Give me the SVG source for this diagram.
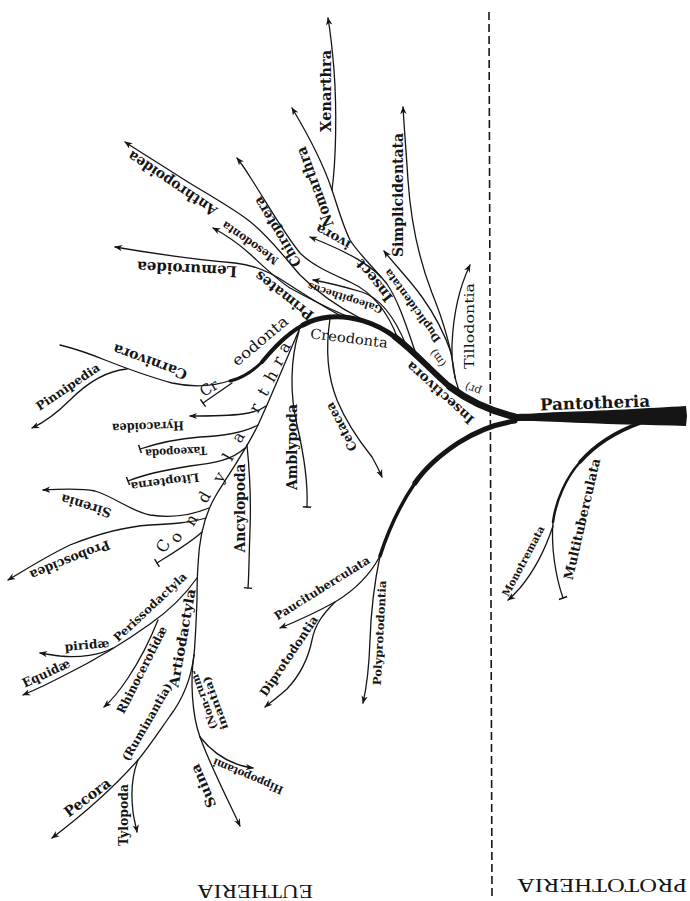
<svg xmlns="http://www.w3.org/2000/svg" width="690" height="901" viewBox="0 0 690 901">
<defs>
<style>
.ln{fill:none;stroke:#151515;stroke-width:1.3;stroke-linecap:round;stroke-linejoin:round}
.th{fill:none;stroke:#151515;stroke-linecap:round}
.a{marker-end:url(#arr)}
.e{marker-end:url(#tee)}
text{font-family:"DejaVu Serif","Liberation Serif",serif;fill:#151515;text-anchor:middle;dominant-baseline:central}
.b{font-weight:bold}
.cl{font-size:16px}
.cap{font-family:"Liberation Serif","DejaVu Serif",serif}
</style>
<marker id="arr" viewBox="0 0 10 10" refX="9" refY="5" markerWidth="8" markerHeight="8" markerUnits="userSpaceOnUse" orient="auto">
<path d="M0,1 L10,5 L0,9 L3,5 Z" fill="#151515"/>
</marker>
<marker id="tee" viewBox="0 0 10 10" refX="5" refY="5" markerWidth="9" markerHeight="9" markerUnits="userSpaceOnUse" orient="auto">
<path d="M5,0 L5,10" stroke="#151515" stroke-width="1.6"/>
</marker>
</defs>
<rect width="690" height="901" fill="#ffffff"/>

<line id="divider" x1="489" y1="12" x2="492" y2="896" stroke="#151515" stroke-width="1.6" stroke-dasharray="8,4"/>

<g id="connectors">
<path fill="#151515" d="M686,406 L687,416 L686,426 C650,425 600,424 560,422 C540,421 525,421 512,421 L512,414 C525,414 540,413 560,412 C600,411 650,408 686,406 Z"/>
<path class="th" stroke-width="7" d="M515,417 C495,412 470,402 450,387"/>
<path class="th" stroke-width="6" d="M450,387 C430,370 415,352 395,337"/>
<path class="th" stroke-width="5" d="M395,337 C375,322 350,315 330,317 C318,318 310,321 303,325"/>
<path class="th" stroke-width="4" d="M303,325 C285,335 272,350 262,362"/>
<path class="th" stroke-width="3" d="M262,362 C252,372 243,378 230,381"/>
<path class="th" stroke-width="5" d="M515,421 C495,424 475,432 458,443 C440,455 425,468 415,483"/>
<path class="th" stroke-width="3.5" d="M415,483 C402,502 390,525 380,556"/>
<path class="th" stroke-width="3.5" d="M640,423 C615,432 595,445 580,462"/>
<path class="th" stroke-width="2.5" d="M580,462 C566,478 556,500 553,522"/>
<path class="ln e" stroke-width="1.8" d="M553,522 C551,545 555,575 563,598"/>

<path class="ln a" d="M553,526 C545,550 535,570 520,588 C515,593 512,597 508,600"/>
<path class="ln a" d="M380,556 C370,575 355,590 335,602 C315,613 295,622 280,628"/>
<path class="ln a" d="M335,602 C322,615 315,625 312,640 C308,660 300,675 287,689 C278,697 271,702 265,707"/>
<path class="ln a" d="M380,556 C375,580 371,610 370,640 C369,670 366,690 363,703"/>

<path class="ln a" d="M460,394 C455,380 451,362 452,345 C453,320 457,292 470,265"/>
<path class="ln a" d="M455,378 C452,350 443,320 432,293 C420,262 411,225 408,180 C406,150 404,125 403,107"/>
<path class="ln a" d="M452,355 C445,335 435,315 422,297 C410,280 395,265 384,251"/>
<path class="ln a" d="M416,354 C406,325 398,300 387,284 C374,266 348,252 310,237"/>
<path class="ln a" d="M381,277 C368,262 356,250 350,240 C343,226 338,208 332,190 C324,166 310,138 292,108"/>
<path class="ln a" d="M332,190 C336,160 337,110 334,70 C332,45 330,30 328,18"/>
<path class="ln a" d="M406,345 C395,318 380,298 362,292 C345,287 330,283 313,280"/>
<path class="ln a" d="M398,339 C388,312 372,292 350,282 C328,272 312,265 300,253 C285,235 268,205 252,180 C247,172 242,164 237,158"/>
<path class="ln a" d="M360,318 C340,308 318,293 300,275 C285,258 268,235 248,220 C228,205 200,190 180,177 C160,164 140,152 125,142"/>
<path class="ln a" d="M352,318 C330,310 305,296 290,288 C275,278 262,265 250,254 C240,245 228,236 213,228"/>
<path class="ln a" d="M345,318 C325,308 305,295 285,282 C270,272 255,265 235,263 C200,260 150,253 115,247"/>
<path class="ln a" d="M330,319 C326,345 327,375 337,400 C346,422 360,442 372,457 C376,464 379,470 382,477"/>
<path class="ln e" d="M299,331 C290,360 290,395 297,425 C304,455 308,485 307,507"/>

<path class="ln" d="M300,328 C288,355 272,395 258,425 C245,452 228,475 215,497 C204,516 199,540 198,565 C197,580 197,590 197,600 C196,625 195,645 194,655"/>
<path class="ln e" d="M232,383 C222,390 213,396 203,403"/>
<path class="ln" d="M232,380 C215,386 195,388 172,383 C150,377 128,369 105,360 C88,353 72,348 60,345"/>
<path class="ln a" d="M127,369 C105,371 85,385 70,400 C58,412 45,422 32,428"/>
<path class="ln a" d="M266,406 C255,414 240,416 190,416"/>
<path class="ln e" d="M258,425 C245,432 225,436 200,437 C175,439 155,444 140,449"/>
<path class="ln e" d="M245,448 C232,460 215,463 190,466 C165,470 145,474 128,481"/>
<path class="ln e" d="M247,445 C250,475 251,505 250,530 C249,555 249,575 248,588"/>
<path class="ln a" d="M209,508 C190,516 170,518 150,515 C130,511 115,497 95,491 C80,488 60,489 43,490"/>
<path class="ln a" d="M206,518 C190,523 170,524 150,525 C120,527 95,535 70,545 C45,557 25,570 8,580"/>
<path class="ln e" d="M202,532 C190,543 173,553 157,563"/>

<path class="ln a" d="M197,578 C185,595 170,610 150,624 C125,642 95,660 65,675 C50,683 35,690 23,695"/>
<path class="ln a" d="M113,648 C100,655 80,658 60,656 C52,655 46,654 40,653"/>
<path class="ln a" d="M158,620 C150,640 140,660 128,678 C120,690 112,700 104,707"/>
<path class="ln a" d="M194,655 C191,680 182,700 170,716 C158,733 148,748 138,760 C115,786 85,813 52,838"/>
<path class="ln a" d="M138,760 C132,775 131,795 133,812 C134,820 136,826 137,832"/>
<path class="ln" d="M194,655 C190,680 192,715 200,737"/>
<path class="ln a" d="M200,737 C210,765 228,800 240,826"/>
<path class="ln a" d="M200,737 C212,752 230,765 253,768"/>
</g>

<g id="n-pantotheria"><text class="b" font-size="16.5" textLength="110" lengthAdjust="spacingAndGlyphs" transform="translate(595,403) rotate(-2)">Pantotheria</text></g>
<g id="n-multituberculata"><text class="b" font-size="13" textLength="124" lengthAdjust="spacingAndGlyphs" transform="translate(582,519) rotate(-77)">Multituberculata</text></g>
<g id="n-monotremata"><text class="b" font-size="10.5" textLength="78" lengthAdjust="spacingAndGlyphs" transform="translate(523,561) rotate(-62)">Monotremata</text></g>
<g id="n-paucituberculata"><text class="b" font-size="11.5" textLength="110" lengthAdjust="spacingAndGlyphs" transform="translate(322,588) rotate(-32)">Paucituberculata</text></g>
<g id="n-diprotodontia"><text class="b" font-size="12" textLength="94" lengthAdjust="spacingAndGlyphs" transform="translate(289,656) rotate(-56)">Diprotodontia</text></g>
<g id="n-polyprotodontia"><text class="b" font-size="11" textLength="105" lengthAdjust="spacingAndGlyphs" transform="translate(380,633) rotate(-87)">Polyprotodontia</text></g>
<g id="n-insectivora"><text class="b" font-size="13" textLength="86" lengthAdjust="spacingAndGlyphs" transform="translate(440,393) rotate(-138)">Insectivora</text></g>
<g id="n-tillodontia"><text font-size="13" textLength="86" lengthAdjust="spacingAndGlyphs" transform="translate(469,326) rotate(-90)">Tillodontia</text></g>
<g id="n-pr"><text font-size="11" transform="translate(473,389) rotate(200)">pr)</text></g>
<g id="n-m"><text font-size="11" transform="translate(438,358) rotate(-125)">(m)</text></g>
<g id="n-duplicidentata"><text class="b" font-size="10.5" textLength="88" lengthAdjust="spacingAndGlyphs" transform="translate(412,306) rotate(-126)">Duplicidentata</text></g>
<g id="n-simplicidentata"><text class="b" font-size="14" textLength="124" lengthAdjust="spacingAndGlyphs" transform="translate(398,195) rotate(-90)">Simplicidentata</text></g>
<g id="n-insect"><text class="b" font-size="14" textLength="50" lengthAdjust="spacingAndGlyphs" transform="translate(374,281) rotate(-129)">Insect</text></g>
<g id="n-ivora"><text class="b" font-size="13" textLength="38" lengthAdjust="spacingAndGlyphs" transform="translate(333,237) rotate(-151)">ivora</text></g>
<g id="n-galeopithecus"><text class="b" font-size="10" textLength="78" lengthAdjust="spacingAndGlyphs" transform="translate(345,298) rotate(-162)">Galeopithecus</text></g>
<g id="n-xenarthra"><text class="b" font-size="15" textLength="82" lengthAdjust="spacingAndGlyphs" transform="translate(326,91) rotate(-90)">Xenarthra</text></g>
<g id="n-nomarthra"><text class="b" font-size="15" textLength="84" lengthAdjust="spacingAndGlyphs" transform="translate(315,187) rotate(-110)">Nomarthra</text></g>
<g id="n-chiroptera"><text class="b" font-size="13.5" textLength="79" lengthAdjust="spacingAndGlyphs" transform="translate(277,232) rotate(-121)">Chiroptera</text></g>
<g id="n-anthropoidea"><text class="b" font-size="14.5" textLength="104" lengthAdjust="spacingAndGlyphs" transform="translate(172,184) rotate(-146)">Anthropoidea</text></g>
<g id="n-mesodonta"><text class="b" font-size="11.5" textLength="66" lengthAdjust="spacingAndGlyphs" transform="translate(250,243) rotate(-145)">Mesodonta</text></g>
<g id="n-lemuroidea"><text class="b" font-size="15" textLength="100" lengthAdjust="spacingAndGlyphs" transform="translate(187,269) rotate(183)">Lemuroidea</text></g>
<g id="n-primates"><text class="b" font-size="14" textLength="70" lengthAdjust="spacingAndGlyphs" transform="translate(284,296) rotate(-142)">Primates</text></g>
<g id="n-creodonta"><text font-size="14" textLength="78" lengthAdjust="spacingAndGlyphs" transform="translate(349,338) rotate(7)">Creodonta</text>
<text font-size="15" transform="translate(209,388) rotate(-30)">Cr</text>
<text font-size="15" textLength="68" lengthAdjust="spacingAndGlyphs" transform="translate(260,341) rotate(-40)">eodonta</text></g>
<g id="n-cetacea"><text class="b" font-size="12.5" textLength="53" lengthAdjust="spacingAndGlyphs" transform="translate(341,427) rotate(-118)">Cetacea</text></g>
<g id="n-amblypoda"><text class="b" font-size="14" textLength="86" lengthAdjust="spacingAndGlyphs" transform="translate(292,447) rotate(-90)">Amblypoda</text></g>
<g id="n-ancylopoda"><text class="b" font-size="14" textLength="89" lengthAdjust="spacingAndGlyphs" transform="translate(240,508) rotate(-90)">Ancylopoda</text></g>
<g id="n-condylarthra" class="cl">
<text transform="translate(163,546) rotate(-60)">C</text>
<text transform="translate(176,537) rotate(-60)">o</text>
<text transform="translate(191,520) rotate(-60)">n</text>
<text transform="translate(204,497) rotate(-60)">d</text>
<text transform="translate(219,477) rotate(-60)">y</text>
<text transform="translate(228,457) rotate(-60)">l</text>
<text transform="translate(238,437) rotate(-60)">a</text>
<text transform="translate(255,408) rotate(-60)">r</text>
<text transform="translate(263,392) rotate(-60)">t</text>
<text transform="translate(271,376) rotate(-60)">h</text>
<text transform="translate(278,361) rotate(-60)">r</text>
<text transform="translate(284,347) rotate(-60)">a</text>
</g>
<g id="n-carnivora"><text class="b" font-size="14" textLength="78" lengthAdjust="spacingAndGlyphs" transform="translate(150,362) rotate(-160)">Carnivora</text></g>
<g id="n-pinnipedia"><text class="b" font-size="12" textLength="74" lengthAdjust="spacingAndGlyphs" transform="translate(68,387) rotate(-34)">Pinnipedia</text></g>
<g id="n-hyracoidea"><text class="b" font-size="12.5" textLength="72" lengthAdjust="spacingAndGlyphs" transform="translate(148,427) rotate(178)">Hyracoidea</text></g>
<g id="n-taxeopoda"><text class="b" font-size="11.5" textLength="62" lengthAdjust="spacingAndGlyphs" transform="translate(176,452) rotate(177)">Taxeopoda</text></g>
<g id="n-litopterna"><text class="b" font-size="11.5" textLength="69" lengthAdjust="spacingAndGlyphs" transform="translate(165,482) rotate(172)">Litopterna</text></g>
<g id="n-sirenia"><text class="b" font-size="13" textLength="52" lengthAdjust="spacingAndGlyphs" transform="translate(86,506) rotate(-163)">Sirenia</text></g>
<g id="n-proboscidea"><text class="b" font-size="13" textLength="85" lengthAdjust="spacingAndGlyphs" transform="translate(70,560) rotate(158)">Proboscidea</text></g>
<g id="n-perissodactyla"><text class="b" font-size="11.5" textLength="95" lengthAdjust="spacingAndGlyphs" transform="translate(150,607) rotate(-43)">Perissodactyla</text></g>
<g id="n-hippidae"><text class="b" font-size="12" textLength="45" lengthAdjust="spacingAndGlyphs" transform="translate(87,645) rotate(-5)">piridæ</text></g>
<g id="n-equidae"><text class="b" font-size="12.5" textLength="51" lengthAdjust="spacingAndGlyphs" transform="translate(46,673) rotate(-25)">Equidæ</text></g>
<g id="n-rhinocerotidae"><text class="b" font-size="12" textLength="96" lengthAdjust="spacingAndGlyphs" transform="translate(142,670) rotate(-63)">Rhinocerotidæ</text></g>
<g id="n-artiodactyla"><text class="b" font-size="13.5" textLength="100" lengthAdjust="spacingAndGlyphs" transform="translate(182,638) rotate(-80)">Artiodactyla</text></g>
<g id="n-ruminantia"><text class="b" font-size="11.5" textLength="88" lengthAdjust="spacingAndGlyphs" transform="translate(147,722) rotate(-60)">(Ruminantia)</text></g>
<g id="n-pecora"><text class="b" font-size="14.5" textLength="54" lengthAdjust="spacingAndGlyphs" transform="translate(87,797) rotate(-37)">Pecora</text></g>
<g id="n-tylopoda"><text class="b" font-size="13" textLength="62" lengthAdjust="spacingAndGlyphs" transform="translate(123,815) rotate(-90)">Tylopoda</text></g>
<g id="n-nonruminantia"><text class="b" font-size="10.5" textLength="62" lengthAdjust="spacingAndGlyphs" transform="translate(203,700) rotate(-110)">(Non-rum-</text>
<text class="b" font-size="10.5" textLength="56" lengthAdjust="spacingAndGlyphs" transform="translate(215,703) rotate(-110)">inantia)</text></g>
<g id="n-suina"><text class="b" font-size="13.5" textLength="46" lengthAdjust="spacingAndGlyphs" transform="translate(203,786) rotate(-113)">Suina</text></g>
<g id="n-hippopotami"><text class="b" font-size="11" textLength="75" lengthAdjust="spacingAndGlyphs" transform="translate(248,776) rotate(-157)">Hippopotami</text></g>
<g id="n-eutheria"><text class="cap" font-size="19" textLength="116" lengthAdjust="spacingAndGlyphs" transform="translate(255,891) rotate(180)">EUTHERIA</text></g>
<g id="n-prototheria"><text class="cap" font-size="19" textLength="170" lengthAdjust="spacingAndGlyphs" transform="translate(602,885) rotate(180)">PROTOTHERIA</text></g>
</svg>
